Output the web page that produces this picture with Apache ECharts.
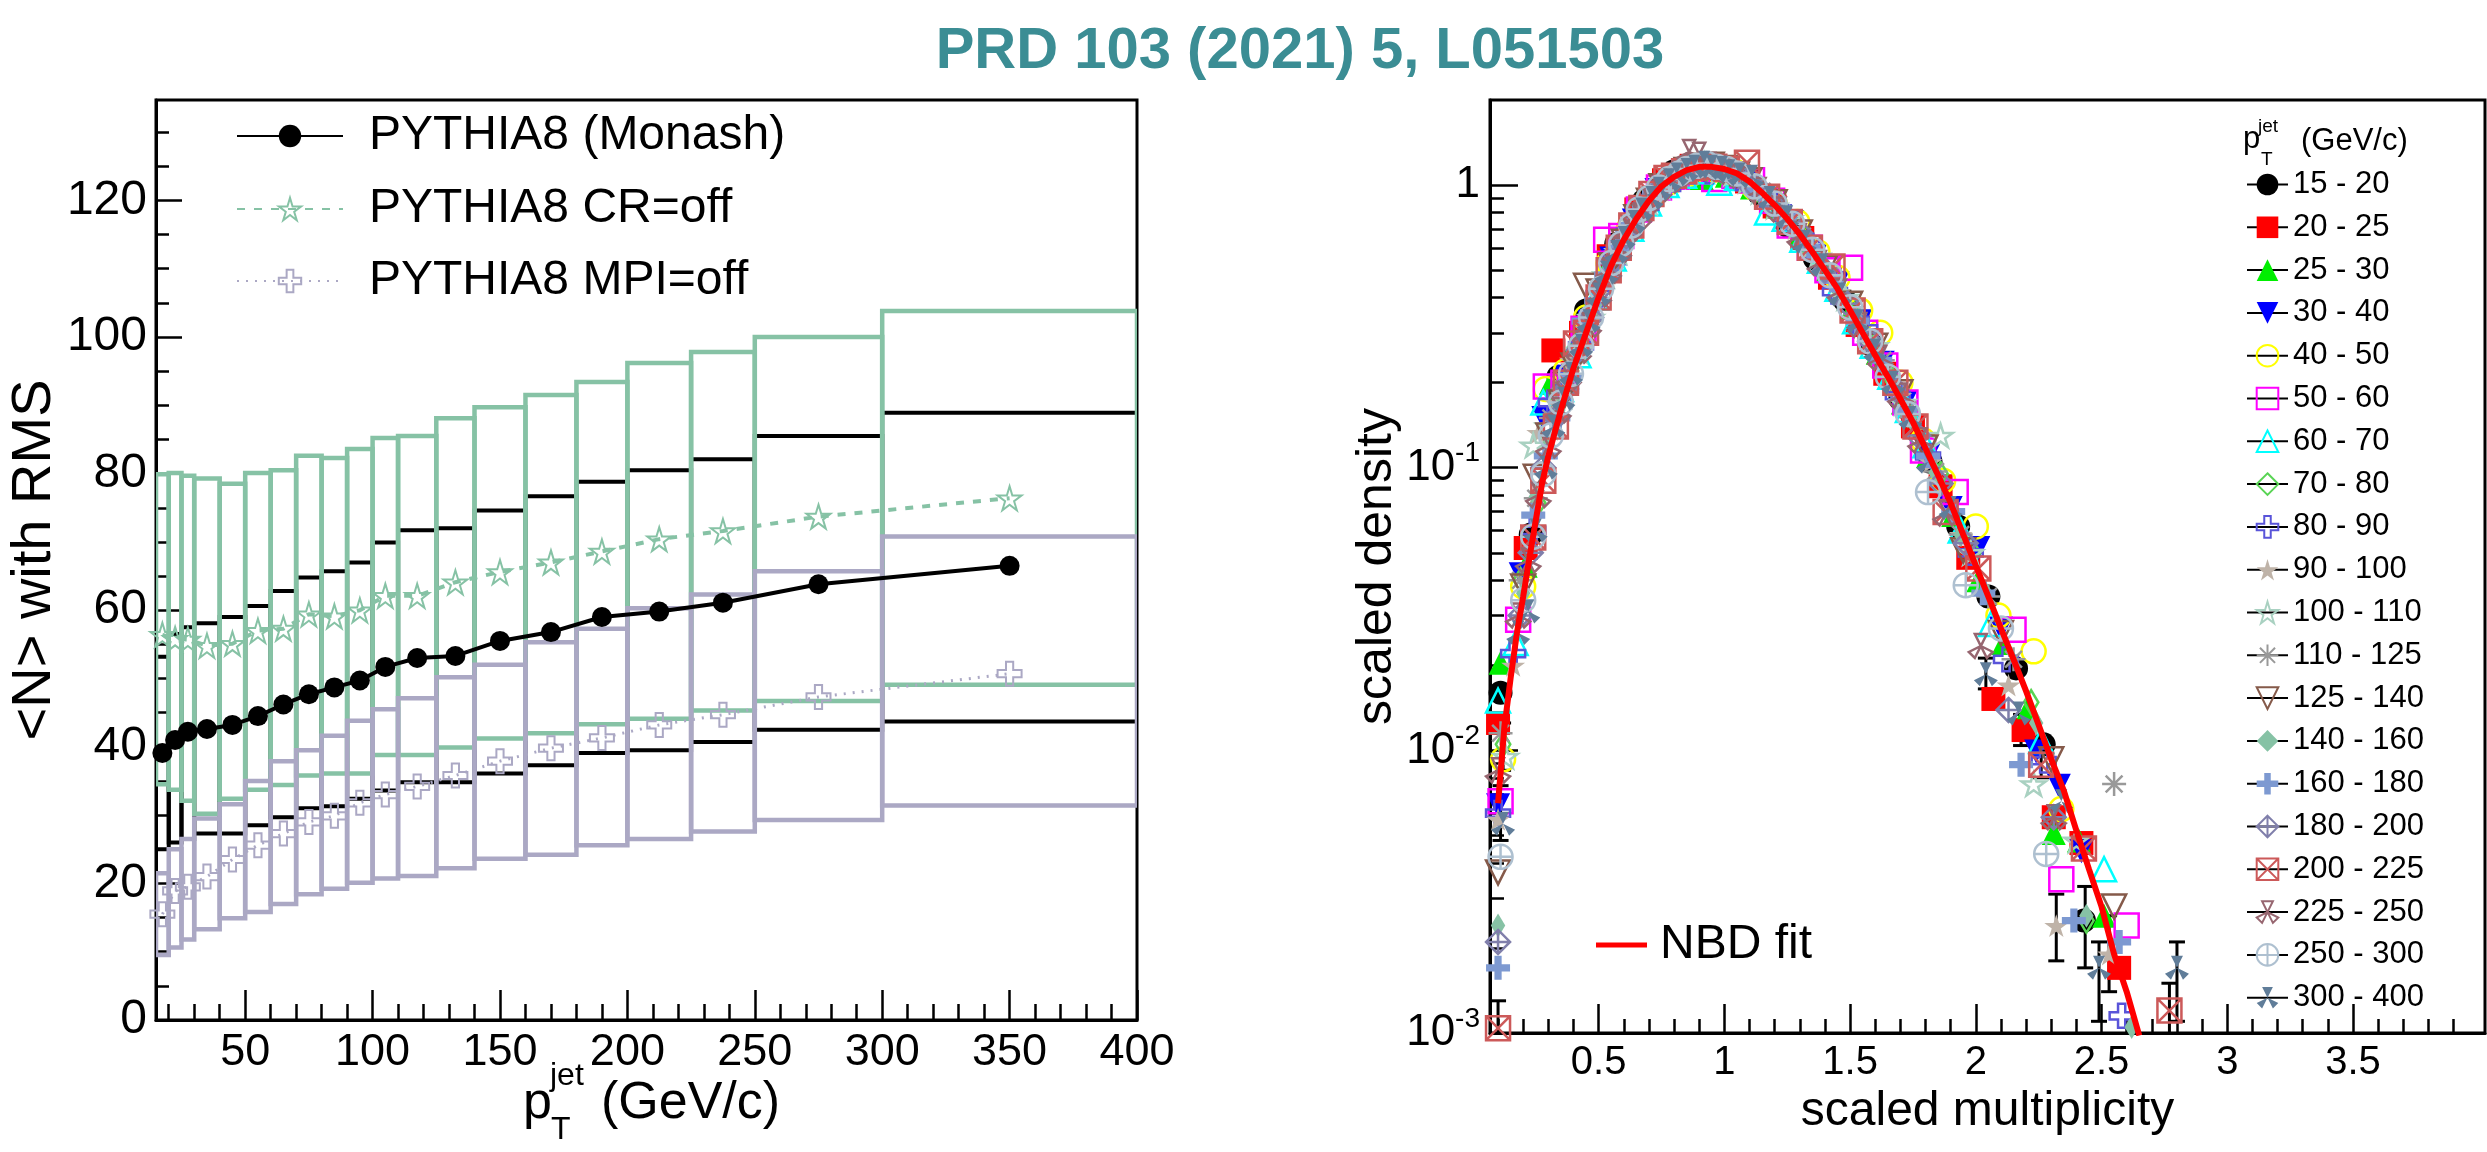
<!DOCTYPE html>
<html>
<head>
<meta charset="utf-8">
<script src="https://cdn.jsdelivr.net/npm/echarts@6/dist/echarts.min.js"></script>
<style>
html,body{margin:0;padding:0;background:#fff}
#chart{width:2487px;height:1152px}
</style>
</head>
<body>
<div id="chart"></div>
<script>
// ---- left panel: <N> vs jet pT ----
var ptEdges = [15,20,25,30,40,50,60,70,80,90,100,110,125,140,160,180,200,225,250,300,400];
var ptCenters = [17.5,22.5,27.5,35,45,55,65,75,85,95,105,117.5,132.5,150,170,190,212.5,237.5,275,350];
var monashMean = [39.1,41.0,42.2,42.6,43.2,44.5,46.2,47.7,48.7,49.7,51.7,53.0,53.3,55.5,56.8,59.0,59.8,61.1,63.8,66.5];
var monashLow  = [25.0,26.0,26.5,27.3,27.3,28.5,29.7,31.0,31.3,32.4,33.6,34.8,34.8,36.1,37.3,39.1,39.5,40.7,42.5,43.7];
var monashHigh = [53.2,56.5,57.5,58.1,59.0,60.6,62.8,64.8,65.7,67.0,69.9,71.7,72.0,74.6,76.7,78.8,80.5,82.1,85.5,88.9];
var crMean = [56.4,55.8,55.7,54.8,55.1,57.0,57.3,59.4,59.1,60.0,62.1,62.1,64.1,65.6,67.0,68.6,70.4,71.6,73.7,76.4];
var crLow  = [34.5,33.7,32.1,30.2,32.4,33.7,34.4,35.8,36.1,36.1,38.8,38.8,39.9,41.2,42.0,43.3,44.1,45.3,46.7,49.1];
var crHigh = [79.9,80.1,79.7,79.3,78.5,80.1,80.5,82.6,82.3,83.6,85.2,85.5,88.1,89.7,91.5,93.4,96.2,97.8,100.0,103.8];
var mpiMean = [15.5,18.9,19.5,21.0,23.5,25.6,27.3,29.0,29.9,31.8,33.0,34.2,35.8,37.9,39.8,41.3,43.2,44.7,47.3,50.7];
var mpiLow  = [9.5,10.6,11.8,13.3,14.9,15.8,17.0,18.4,19.2,20.1,20.7,21.1,22.2,23.6,24.2,25.6,26.5,27.6,29.3,31.4];
var mpiHigh = [21.5,25.0,26.5,29.5,31.6,35.0,37.9,39.5,41.6,43.8,45.5,47.1,50.2,52.0,55.3,57.3,60.3,62.3,65.7,70.8];
var leftXLabels = [50,100,150,200,250,300,350,400];
var leftYLabels = [0,20,40,60,80,100,120];

// ---- right panel: scaled multiplicity distributions ----
var binNames = ['15 - 20','20 - 25','25 - 30','30 - 40','40 - 50','50 - 60','60 - 70','70 - 80','80 - 90','90 - 100',
  '100 - 110','110 - 125','125 - 140','140 - 160','160 - 180','180 - 200','200 - 225','225 - 250','250 - 300','300 - 400'];
var pt15_20 = [[0.11,0.016],[0.23,0.058],[0.34,0.21],[0.45,0.36],[0.57,0.62],[0.68,0.88],[0.80,1.12],[0.91,1.18],[1.02,1.10],[1.14,0.93],[1.25,0.72],[1.36,0.55],[1.48,0.39],[1.59,0.27],[1.70,0.175],[1.82,0.105],[1.93,0.062],[2.05,0.035],[2.16,0.0195],[2.27,0.0105],[2.43,0.0025]];
var pt20_25 = [[0.10,0.0125],[0.21,0.052],[0.32,0.26],[0.43,0.30],[0.54,0.56],[0.65,0.82],[0.76,1.04],[0.87,1.17],[0.98,1.14],[1.09,1.03],[1.20,0.84],[1.31,0.65],[1.42,0.47],[1.53,0.32],[1.64,0.215],[1.75,0.14],[1.86,0.086],[1.97,0.048],[2.07,0.0152],[2.19,0.0118],[2.31,0.0058],[2.42,0.0047],[2.57,0.0017]];
var pt25_30 = [[0.11,0.0204],[0.21,0.045],[0.31,0.20],[0.41,0.28],[0.51,0.47],[0.61,0.70],[0.71,0.95],[0.81,1.06],[0.91,1.06],[1.01,1.08],[1.11,0.98],[1.21,0.84],[1.31,0.68],[1.41,0.50],[1.51,0.37],[1.61,0.255],[1.71,0.17],[1.81,0.11],[1.91,0.068],[2.01,0.040],[2.11,0.024],[2.21,0.0142],[2.31,0.0051],[2.41,0.0048],[2.51,0.0026]];
var pt30_40 = [[0.10,0.0064],[0.19,0.042],[0.28,0.15],[0.37,0.21],[0.46,0.33],[0.55,0.55],[0.64,0.75],[0.73,0.96],[0.82,1.04],[0.91,1.08],[1.00,1.12],[1.09,1.02],[1.18,0.88],[1.27,0.74],[1.36,0.56],[1.45,0.45],[1.54,0.33],[1.63,0.235],[1.72,0.17],[1.81,0.11],[1.90,0.072],[2.01,0.052],[2.10,0.027],[2.24,0.0099],[2.33,0.0075],[2.42,0.0044]];
var pt40_50 = [[0.12,0.0093],[0.20,0.038],[0.29,0.19],[0.37,0.22],[0.45,0.34],[0.54,0.53],[0.62,0.70],[0.70,0.90],[0.79,1.03],[0.87,1.10],[0.95,1.13],[1.04,1.12],[1.12,0.98],[1.20,0.86],[1.29,0.74],[1.37,0.58],[1.45,0.47],[1.54,0.36],[1.62,0.30],[1.70,0.20],[1.79,0.125],[1.87,0.09],[2.00,0.062],[2.09,0.030],[2.23,0.0224],[2.34,0.0062]];
var pt50_60 = [[0.11,0.0066],[0.18,0.029],[0.29,0.194],[0.36,0.20],[0.44,0.31],[0.53,0.64],[0.59,0.66],[0.66,0.82],[0.74,0.98],[0.81,1.07],[0.89,1.12],[0.96,1.05],[1.04,1.08],[1.11,1.04],[1.19,0.88],[1.26,0.72],[1.34,0.60],[1.41,0.50],[1.50,0.51],[1.56,0.30],[1.64,0.23],[1.72,0.17],[1.79,0.115],[1.92,0.082],[2.15,0.0267],[2.34,0.0035],[2.60,0.0024]];
var pt60_70 = [[0.10,0.015],[0.17,0.024],[0.28,0.17],[0.35,0.19],[0.42,0.25],[0.49,0.40],[0.56,0.55],[0.63,0.70],[0.70,0.86],[0.77,1.00],[0.84,1.08],[0.91,1.12],[0.98,1.02],[1.05,1.06],[1.17,0.80],[1.24,0.76],[1.31,0.64],[1.38,0.54],[1.45,0.43],[1.52,0.33],[1.59,0.27],[1.66,0.21],[1.73,0.16],[1.80,0.12],[1.94,0.060],[2.06,0.028],[2.26,0.0108],[2.51,0.0038]];
var pt70_80 = [[0.12,0.0105],[0.19,0.040],[0.26,0.075],[0.33,0.18],[0.39,0.22],[0.46,0.32],[0.53,0.48],[0.59,0.62],[0.66,0.80],[0.73,0.94],[0.79,1.06],[0.86,1.14],[0.93,1.14],[0.99,1.12],[1.06,1.08],[1.13,0.97],[1.19,0.86],[1.26,0.75],[1.33,0.60],[1.39,0.52],[1.46,0.42],[1.53,0.34],[1.59,0.27],[1.66,0.21],[1.73,0.155],[1.86,0.095],[1.99,0.050],[2.22,0.0148],[2.44,0.0025]];
var pt80_90 = [[0.10,0.0060],[0.16,0.022],[0.24,0.060],[0.31,0.17],[0.37,0.19],[0.43,0.27],[0.50,0.41],[0.56,0.54],[0.62,0.68],[0.69,0.84],[0.75,0.98],[0.81,1.05],[0.87,1.12],[0.94,1.12],[1.00,1.13],[1.06,1.06],[1.12,0.98],[1.19,0.86],[1.25,0.77],[1.34,0.61],[1.44,0.42],[1.56,0.31],[1.69,0.18],[1.81,0.11],[1.98,0.050],[2.12,0.021],[2.27,0.0092],[2.58,0.00115]];
var pt90_100 = [[0.10,0.0057],[0.16,0.020],[0.26,0.133],[0.33,0.17],[0.39,0.24],[0.45,0.31],[0.51,0.44],[0.57,0.58],[0.63,0.72],[0.69,0.86],[0.75,0.96],[0.81,1.06],[0.87,1.10],[0.93,1.15],[0.99,1.13],[1.04,1.09],[1.10,1.02],[1.16,0.93],[1.22,0.82],[1.28,0.70],[1.34,0.60],[1.46,0.42],[1.58,0.28],[1.70,0.18],[1.82,0.105],[1.94,0.058],[2.13,0.017],[2.32,0.0024],[2.53,0.0019]];
var pt100_110 = [[0.13,0.0095],[0.24,0.12],[0.30,0.14],[0.36,0.18],[0.42,0.26],[0.47,0.34],[0.53,0.48],[0.58,0.58],[0.64,0.74],[0.70,0.87],[0.75,0.99],[0.81,1.08],[0.86,1.16],[0.92,1.18],[0.98,1.12],[1.03,1.10],[1.09,1.04],[1.14,0.95],[1.20,0.84],[1.26,0.76],[1.37,0.56],[1.48,0.40],[1.60,0.27],[1.71,0.17],[1.86,0.13],[1.98,0.050],[2.23,0.0076],[2.40,0.0048]];
var pt110_125 = [[0.11,0.0115],[0.19,0.040],[0.25,0.078],[0.31,0.15],[0.36,0.19],[0.41,0.25],[0.47,0.33],[0.52,0.45],[0.57,0.56],[0.62,0.68],[0.68,0.84],[0.73,0.95],[0.78,1.04],[0.84,1.10],[0.89,1.15],[0.94,1.16],[0.99,1.12],[1.05,1.10],[1.10,1.02],[1.15,0.95],[1.21,0.83],[1.31,0.66],[1.42,0.48],[1.52,0.35],[1.63,0.24],[1.73,0.16],[1.84,0.097],[1.94,0.058],[2.05,0.035],[2.15,0.021],[2.55,0.0076]];
var pt125_140 = [[0.10,0.0037],[0.20,0.038],[0.25,0.093],[0.30,0.13],[0.35,0.17],[0.40,0.23],[0.45,0.44],[0.50,0.42],[0.55,0.52],[0.60,0.63],[0.65,0.77],[0.70,0.88],[0.75,0.99],[0.80,1.06],[0.85,1.13],[0.90,1.17],[0.95,1.18],[1.00,1.15],[1.05,1.09],[1.10,1.04],[1.20,0.87],[1.30,0.68],[1.40,0.51],[1.50,0.38],[1.60,0.27],[1.70,0.185],[1.80,0.118],[1.95,0.051],[2.10,0.026],[2.30,0.0093],[2.55,0.0028]];
var pt140_160 = [[0.10,0.0024],[0.20,0.036],[0.25,0.079],[0.30,0.12],[0.34,0.16],[0.39,0.21],[0.44,0.29],[0.49,0.38],[0.54,0.50],[0.59,0.62],[0.64,0.74],[0.69,0.86],[0.74,0.97],[0.79,1.06],[0.84,1.12],[0.89,1.15],[0.94,1.16],[0.99,1.14],[1.04,1.10],[1.09,1.04],[1.14,0.96],[1.24,0.78],[1.34,0.60],[1.44,0.45],[1.54,0.32],[1.64,0.225],[1.74,0.15],[1.84,0.096],[1.94,0.058],[2.04,0.036],[2.24,0.0125],[2.44,0.0026],[2.62,0.00105]];
var pt160_180 = [[0.10,0.0017],[0.24,0.068],[0.29,0.11],[0.34,0.15],[0.39,0.21],[0.44,0.33],[0.49,0.39],[0.53,0.48],[0.58,0.60],[0.63,0.72],[0.68,0.83],[0.72,0.94],[0.77,1.02],[0.82,1.09],[0.87,1.14],[0.91,1.16],[0.96,1.15],[1.01,1.13],[1.06,1.09],[1.10,1.02],[1.15,0.93],[1.24,0.77],[1.34,0.60],[1.43,0.46],[1.53,0.33],[1.62,0.24],[1.72,0.16],[1.81,0.11],[1.91,0.070],[2.03,0.036],[2.18,0.0089],[2.39,0.0025],[2.57,0.0021]];
var pt180_200 = [[0.10,0.0021],[0.19,0.030],[0.23,0.050],[0.28,0.10],[0.33,0.15],[0.37,0.19],[0.42,0.26],[0.47,0.34],[0.51,0.43],[0.56,0.54],[0.61,0.66],[0.65,0.77],[0.70,0.88],[0.75,0.98],[0.79,1.06],[0.84,1.12],[0.89,1.15],[0.93,1.16],[0.98,1.14],[1.03,1.11],[1.07,1.06],[1.12,0.99],[1.21,0.83],[1.30,0.68],[1.40,0.50],[1.49,0.38],[1.58,0.28],[1.68,0.19],[1.77,0.13],[1.86,0.088],[1.96,0.054],[2.13,0.0139],[2.31,0.0058]];
var pt200_225 = [[0.10,0.00104],[0.24,0.0566],[0.28,0.090],[0.33,0.14],[0.37,0.20],[0.41,0.275],[0.45,0.30],[0.50,0.40],[0.54,0.50],[0.58,0.60],[0.63,0.72],[0.67,0.83],[0.71,0.93],[0.77,1.06],[0.80,1.08],[0.84,1.12],[0.88,1.15],[0.92,1.16],[0.96,1.16],[1.01,1.14],[1.09,1.20],[1.17,0.91],[1.26,0.74],[1.34,0.60],[1.43,0.515],[1.51,0.36],[1.58,0.28],[1.68,0.20],[1.76,0.14],[1.88,0.0697],[2.01,0.044],[2.26,0.0089],[2.43,0.0045],[2.77,0.0012]];
var pt225_250 = [[0.10,0.0085],[0.18,0.030],[0.22,0.047],[0.26,0.080],[0.30,0.12],[0.34,0.16],[0.38,0.21],[0.42,0.26],[0.46,0.32],[0.50,0.41],[0.54,0.50],[0.58,0.59],[0.62,0.70],[0.66,0.78],[0.70,0.89],[0.74,0.97],[0.78,1.04],[0.82,1.10],[0.86,1.31],[0.90,1.28],[0.94,1.18],[0.98,1.15],[1.02,1.12],[1.06,1.08],[1.14,0.96],[1.22,0.82],[1.30,0.66],[1.38,0.53],[1.46,0.42],[1.54,0.32],[1.62,0.245],[1.70,0.18],[1.78,0.125],[1.88,0.069],[2.02,0.0234],[2.31,0.0058]];
var pt250_300 = [[0.11,0.0042],[0.20,0.034],[0.24,0.057],[0.28,0.095],[0.31,0.13],[0.35,0.17],[0.39,0.215],[0.43,0.27],[0.47,0.34],[0.51,0.43],[0.55,0.53],[0.59,0.62],[0.63,0.72],[0.66,0.82],[0.70,0.90],[0.74,0.98],[0.78,1.05],[0.82,1.10],[0.85,1.14],[0.89,1.17],[0.93,1.19],[0.97,1.16],[1.01,1.14],[1.05,1.10],[1.12,0.99],[1.20,0.86],[1.27,0.73],[1.35,0.59],[1.42,0.48],[1.50,0.37],[1.58,0.28],[1.65,0.21],[1.73,0.155],[1.81,0.082],[1.96,0.0384],[2.10,0.027],[2.28,0.0043]];
var pt300_400 = [[0.12,0.0055],[0.18,0.026],[0.22,0.031],[0.25,0.060],[0.29,0.10],[0.32,0.14],[0.36,0.175],[0.39,0.215],[0.43,0.27],[0.46,0.33],[0.50,0.41],[0.53,0.49],[0.57,0.58],[0.60,0.65],[0.64,0.74],[0.67,0.82],[0.71,0.90],[0.74,0.97],[0.78,1.04],[0.81,1.09],[0.85,1.13],[0.88,1.16],[0.92,1.20],[0.95,1.16],[0.99,1.15],[1.02,1.12],[1.06,1.09],[1.11,1.07],[1.18,0.90],[1.25,0.77],[1.32,0.63],[1.39,0.52],[1.46,0.41],[1.53,0.33],[1.60,0.26],[1.67,0.20],[1.74,0.15],[1.81,0.105],[1.90,0.072],[2.04,0.0186],[2.17,0.0135],[2.34,0.0066],[2.49,0.0017],[2.80,0.0017]];
var binPoints = [pt15_20,pt20_25,pt25_30,pt30_40,pt40_50,pt50_60,pt60_70,pt70_80,pt80_90,pt90_100,
  pt100_110,pt110_125,pt125_140,pt140_160,pt160_180,pt180_200,pt200_225,pt225_250,pt250_300,pt300_400];
// [x, low, high]
var tailErrors = [[2.04,0.0165,0.0212],[2.18,0.0104,0.0134],[2.26,0.0080,0.0099],[2.32,0.0018,0.0031],[2.435,0.0017,0.0033],
  [2.49,0.0011,0.0021],[2.53,0.0014,0.0026],[2.80,0.0011,0.0021],[2.77,0.0009,0.0015],[0.10,0.0009,0.0013],[0.11,0.0048,0.0075],[0.12,0.0085,0.0125]];
var nbdFit = [[0.10,0.0065],[0.125,0.012],[0.15,0.018],[0.175,0.026],[0.2,0.035],[0.225,0.048],[0.25,0.065],[0.275,0.088],[0.3,0.11],[0.35,0.16],[0.4,0.225],[0.45,0.30],[0.5,0.40],[0.55,0.52],[0.6,0.64],[0.65,0.76],[0.7,0.88],[0.75,0.99],[0.8,1.07],[0.85,1.13],[0.9,1.16],[0.95,1.16],[1.0,1.14],[1.05,1.10],[1.1,1.03],[1.15,0.94],[1.2,0.85],[1.25,0.76],[1.3,0.67],[1.35,0.58],[1.4,0.50],[1.45,0.43],[1.5,0.36],[1.55,0.30],[1.6,0.25],[1.65,0.21],[1.7,0.175],[1.75,0.145],[1.8,0.117],[1.85,0.094],[1.9,0.075],[1.95,0.058],[2.0,0.045],[2.05,0.035],[2.1,0.027],[2.15,0.021],[2.2,0.0162],[2.25,0.0123],[2.3,0.0093],[2.35,0.0072],[2.4,0.0052],[2.45,0.0038],[2.5,0.0028],[2.55,0.0019],[2.6,0.0014],[2.65,0.00098]];
var rightXLabels = [0.5,1,1.5,2,2.5,3,3.5];

// marker styles (ROOT-like markers)
var P = {
  triDown: 'path://M0,0 H100 L50,100 Z',
  star: 'path://M50,0 L61,35 L98,35 L68,57 L79,91 L50,70 L21,91 L32,57 L2,35 L39,35 Z',
  cross: 'path://M35,0 H65 V35 H100 V65 H65 V100 H35 V65 H0 V35 H35 Z',
  diamond: 'path://M50,0 L80,50 L50,100 L20,50 Z',
  asterisk: 'path://M50,0 V100 M0,50 H100 M15,15 L85,85 M85,15 L15,85',
  diamondCross: 'path://M50,0 L100,50 L50,100 L0,50 Z M50,0 V100 M0,50 H100',
  squareX: 'path://M0,0 H100 V100 H0 Z M0,0 L100,100 M100,0 L0,100',
  threeTri: 'path://M50,50 L25,0 H75 Z M50,50 L100,75 L75,100 Z M50,50 L25,100 L0,75 Z',
  circleCross: 'path://M0,50 A50,50 0 1 1 100,50 A50,50 0 1 1 0,50 Z M50,0 V100 M0,50 H100'
};
var binColors = ['#000000','#ff0000','#00ee00','#0000ff','#ffff00','#ff00ff','#00ffff','#59d454','#5954d9','#bfb3a8',
  '#a9d1c1','#999999','#855a4a','#86c2a5','#7d99d1','#807fab','#cc5959','#976670','#aec0d0','#607d99'];
var binSymbols = ['circle','rect','triangle',P.triDown,'circle','rect','triangle',P.diamond,P.cross,P.star,
  P.star,P.asterisk,P.triDown,P.diamond,P.cross,P.diamondCross,P.squareX,P.threeTri,P.circleCross,P.threeTri];
var binHollow = [false,false,false,false,true,true,true,true,true,false,true,true,true,false,false,true,true,true,true,false];

var FONT = '"Liberation Sans", Arial, Helvetica, sans-serif';
var green = '#86c2a5', lavender = '#aba8c4';

function boxRenderer(color, width) {
  return function (params, api) {
    var p0 = api.coord([api.value(0), api.value(3)]);
    var p1 = api.coord([api.value(1), api.value(2)]);
    return {
      type: 'rect',
      shape: {x: p0[0], y: p0[1], width: p1[0] - p0[0], height: p1[1] - p0[1]},
      style: {fill: 'none', stroke: color, lineWidth: width}
    };
  };
}
function boxData(lo, hi) {
  var d = [];
  for (var i = 0; i < ptCenters.length; i++) d.push([ptEdges[i], ptEdges[i + 1], lo[i], hi[i]]);
  return d;
}
function pairs(xs, ys) {
  var d = [];
  for (var i = 0; i < xs.length; i++) d.push([xs[i], ys[i]]);
  return d;
}

// minor tick positions
var leftXMinor = [], leftYMinor = [], rightXMinor = [], rightYMinor = [];
for (var v = 20; v < 400; v += 10) if (v % 50 !== 0) leftXMinor.push(v);
for (var v = 5; v < 135; v += 5) if (v % 20 !== 0) leftYMinor.push(v);
for (var k = 1; k < 40; k++) if (k % 5 !== 0) rightXMinor.push(k / 10);
for (var d = -3; d <= -1; d++) for (var m = 2; m <= 9; m++) rightYMinor.push(Math.log10(m) + d);

var chart = echarts.init(document.getElementById('chart'));

var series = [
  {type: 'custom', name: 'monashBox', xAxisIndex: 0, yAxisIndex: 0, renderItem: boxRenderer('#000', 4), data: boxData(monashLow, monashHigh), clip: true, z: 2},
  {type: 'custom', name: 'crBox', xAxisIndex: 0, yAxisIndex: 0, renderItem: boxRenderer(green, 4.5), data: boxData(crLow, crHigh), clip: true, z: 2},
  {type: 'custom', name: 'mpiBox', xAxisIndex: 0, yAxisIndex: 0, renderItem: boxRenderer(lavender, 4.5), data: boxData(mpiLow, mpiHigh), clip: true, z: 2},
  {type: 'line', name: 'PYTHIA8 (Monash)', xAxisIndex: 0, yAxisIndex: 0, data: pairs(ptCenters, monashMean),
   symbol: 'circle', symbolSize: 20, lineStyle: {color: '#000', width: 4}, itemStyle: {color: '#000'}, z: 3},
  {type: 'line', name: 'PYTHIA8 CR=off', xAxisIndex: 0, yAxisIndex: 0, data: pairs(ptCenters, crMean),
   symbol: P.star, symbolSize: 24, lineStyle: {color: green, width: 4, type: [8, 9]},
   itemStyle: {color: 'rgba(0,0,0,0)', borderColor: green, borderWidth: 2}, z: 3},
  {type: 'line', name: 'PYTHIA8 MPI=off', xAxisIndex: 0, yAxisIndex: 0, data: pairs(ptCenters, mpiMean),
   symbol: P.cross, symbolSize: 24, lineStyle: {color: lavender, width: 3, type: [2, 7]},
   itemStyle: {color: 'rgba(0,0,0,0)', borderColor: lavender, borderWidth: 2}, z: 3}
];

series.push({
  type: 'custom', name: 'errors', xAxisIndex: 2, yAxisIndex: 2, data: tailErrors, clip: true, z: 3,
  renderItem: function (params, api) {
    var a = api.coord([api.value(0), api.value(1)]);
    var b = api.coord([api.value(0), api.value(2)]);
    var st = {stroke: '#000', lineWidth: 3};
    return {type: 'group', children: [
      {type: 'line', shape: {x1: a[0], y1: a[1], x2: b[0], y2: b[1]}, style: st},
      {type: 'line', shape: {x1: a[0] - 8, y1: a[1], x2: a[0] + 8, y2: a[1]}, style: st},
      {type: 'line', shape: {x1: b[0] - 8, y1: b[1], x2: b[0] + 8, y2: b[1]}, style: st}
    ]};
  }
});

for (var i = 0; i < binNames.length; i++) {
  var c = binColors[i];
  series.push({
    type: 'line', name: binNames[i], xAxisIndex: 2, yAxisIndex: 2, data: binPoints[i],
    symbol: binSymbols[i], symbolSize: 24, symbolKeepAspect: true, showAllSymbol: true, clip: true,
    lineStyle: {width: 0, color: 'rgba(0,0,0,0)'},
    itemStyle: binHollow[i] ? {color: 'rgba(0,0,0,0)', borderColor: c, borderWidth: 2.5} : {color: c, borderWidth: 0},
    emphasis: {disabled: true}, z: 4
  });
}
series.push({
  type: 'line', name: 'NBD fit', xAxisIndex: 2, yAxisIndex: 2, data: nbdFit, symbol: 'none', clip: true,
  lineStyle: {color: '#ff0000', width: 6}, itemStyle: {color: '#ff0000'}, z: 5
});

function tickAxis(o) {
  return Object.assign({
    type: 'value', splitLine: {show: false}, axisLine: {show: false, onZero: false}, axisLabel: {show: false},
    axisTick: {show: true, inside: true}
  }, o);
}
var axisLineBlack = {onZero: false, lineStyle: {color: '#000', width: 3}};

var option = {
  animation: false,
  backgroundColor: '#fff',
  textStyle: {fontFamily: FONT, color: '#000'},
  grid: [
    {left: 156, top: 100, width: 981, height: 920, show: true, borderColor: '#000', borderWidth: 3},
    {left: 1490, top: 100, width: 995, height: 933, show: true, borderColor: '#000', borderWidth: 3}
  ],
  xAxis: [
    {type: 'value', gridIndex: 0, position: 'bottom', min: 15, max: 400, splitLine: {show: false},
     axisLine: axisLineBlack,
     axisTick: {inside: true, length: 30, customValues: leftXLabels, lineStyle: {color: '#000', width: 2.5}},
     axisLabel: {customValues: leftXLabels, fontSize: 45, color: '#000', margin: 10}},
    tickAxis({gridIndex: 0, position: 'bottom', min: 15, max: 400,
     axisTick: {show: true, inside: true, length: 16, customValues: leftXMinor, lineStyle: {color: '#000', width: 2.5}}}),
    {type: 'value', gridIndex: 1, position: 'bottom', min: 0.068, max: 4.025, splitLine: {show: false},
     name: 'scaled multiplicity', nameLocation: 'middle', nameGap: 55,
     nameTextStyle: {fontSize: 48, color: '#000', verticalAlign: 'top'},
     axisLine: axisLineBlack,
     axisTick: {inside: true, length: 29, customValues: rightXLabels, lineStyle: {color: '#000', width: 2.5}},
     axisLabel: {customValues: rightXLabels, fontSize: 40, color: '#000', margin: 10}},
    tickAxis({gridIndex: 1, position: 'bottom', min: 0.068, max: 4.025,
     axisTick: {show: true, inside: true, length: 14, customValues: rightXMinor, lineStyle: {color: '#000', width: 2.5}}})
  ],
  yAxis: [
    {type: 'value', gridIndex: 0, position: 'left', min: 0, max: 134.7, splitLine: {show: false},
     name: '<N> with RMS', nameLocation: 'middle', nameGap: 78,
     nameTextStyle: {fontSize: 56, color: '#000'},
     axisLine: axisLineBlack,
     axisTick: {inside: true, length: 26, customValues: leftYLabels, lineStyle: {color: '#000', width: 2.5}},
     axisLabel: {customValues: leftYLabels, fontSize: 48, color: '#000', margin: 9}},
    tickAxis({gridIndex: 0, position: 'left', min: 0, max: 134.7,
     axisTick: {show: true, inside: true, length: 13, customValues: leftYMinor, lineStyle: {color: '#000', width: 2.5}}}),
    {type: 'log', logBase: 10, gridIndex: 1, position: 'left', min: 0.001, max: 2, splitLine: {show: false},
     name: 'scaled density', nameLocation: 'middle', nameGap: 84,
     nameTextStyle: {fontSize: 50, color: '#000'},
     axisLine: axisLineBlack,
     axisTick: {inside: true, length: 28, lineStyle: {color: '#000', width: 2.5}},
     axisLabel: {fontSize: 44, color: '#000', margin: 10, showMaxLabel: false,
       formatter: function (v) {
         if (v > 1.5) return '';
         var e = Math.round(Math.log10(v));
         if (e === 0) return '{b|1}';
         return '{b|10}{s|' + e + '}';
       },
       rich: {b: {fontSize: 44, lineHeight: 56}, s: {fontSize: 28, lineHeight: 28, verticalAlign: 'top'}}}},
    tickAxis({gridIndex: 1, position: 'left', min: -3, max: Math.log10(2),
     axisTick: {show: true, inside: true, length: 14, customValues: rightYMinor, lineStyle: {color: '#000', width: 2.5}}})
  ],
  legend: [
    {data: ['PYTHIA8 (Monash)'], left: 236, top: 110, padding: 0, itemWidth: 106, itemHeight: 28, selectedMode: false,
     textStyle: {fontSize: 48, lineHeight: 52, color: '#000', padding: [0, 0, 0, 21]}},
    {data: ['PYTHIA8 CR=off'], left: 236, top: 183, padding: 0, itemWidth: 106, itemHeight: 28, selectedMode: false,
     textStyle: {fontSize: 48, lineHeight: 52, color: '#000', padding: [0, 0, 0, 21]}},
    {data: ['PYTHIA8 MPI=off'], left: 236, top: 255, padding: 0, itemWidth: 106, itemHeight: 28, selectedMode: false,
     textStyle: {fontSize: 48, lineHeight: 52, color: '#000', padding: [0, 0, 0, 21]}},
    {data: [{name: 'NBD fit', icon: 'rect'}], left: 1596, top: 920, padding: 0, itemWidth: 51, itemHeight: 5, selectedMode: false,
     textStyle: {fontSize: 48, lineHeight: 50, color: '#000', padding: [0, 0, 0, 8]}},
    {data: binNames, orient: 'vertical', left: 2246, top: 169, padding: 0, itemWidth: 41, itemHeight: 27, itemGap: 11.8,
     selectedMode: false, lineStyle: {color: '#000', width: 2},
     textStyle: {fontSize: 31, lineHeight: 31, color: '#000'}}
  ],
  graphic: [
    {type: 'text', style: {text: 'PRD 103 (2021) 5, L051503', x: 1300, y: 52, align: 'center', verticalAlign: 'middle',
      font: 'bold 58px ' + FONT, fill: '#3b8d94'}},
    {type: 'text', style: {text: 'p', x: 523, y: 1104, verticalAlign: 'middle', font: '52px ' + FONT, fill: '#000'}},
    {type: 'text', style: {text: 'jet', x: 550, y: 1076, verticalAlign: 'middle', font: '32px ' + FONT, fill: '#000'}},
    {type: 'text', style: {text: 'T', x: 551, y: 1130, verticalAlign: 'middle', font: '32px ' + FONT, fill: '#000'}},
    {type: 'text', style: {text: '(GeV/c)', x: 601, y: 1104, verticalAlign: 'middle', font: '52px ' + FONT, fill: '#000'}},
    {type: 'text', style: {text: 'p', x: 2243, y: 139, verticalAlign: 'middle', font: '31px ' + FONT, fill: '#000'}},
    {type: 'text', style: {text: 'jet', x: 2258, y: 127, verticalAlign: 'middle', font: '19px ' + FONT, fill: '#000'}},
    {type: 'text', style: {text: 'T', x: 2261, y: 160, verticalAlign: 'middle', font: '19px ' + FONT, fill: '#000'}},
    {type: 'text', style: {text: '(GeV/c)', x: 2301, y: 141, verticalAlign: 'middle', font: '31px ' + FONT, fill: '#000'}}
  ],
  series: series
};
chart.setOption(option);
</script>
</body>
</html>
